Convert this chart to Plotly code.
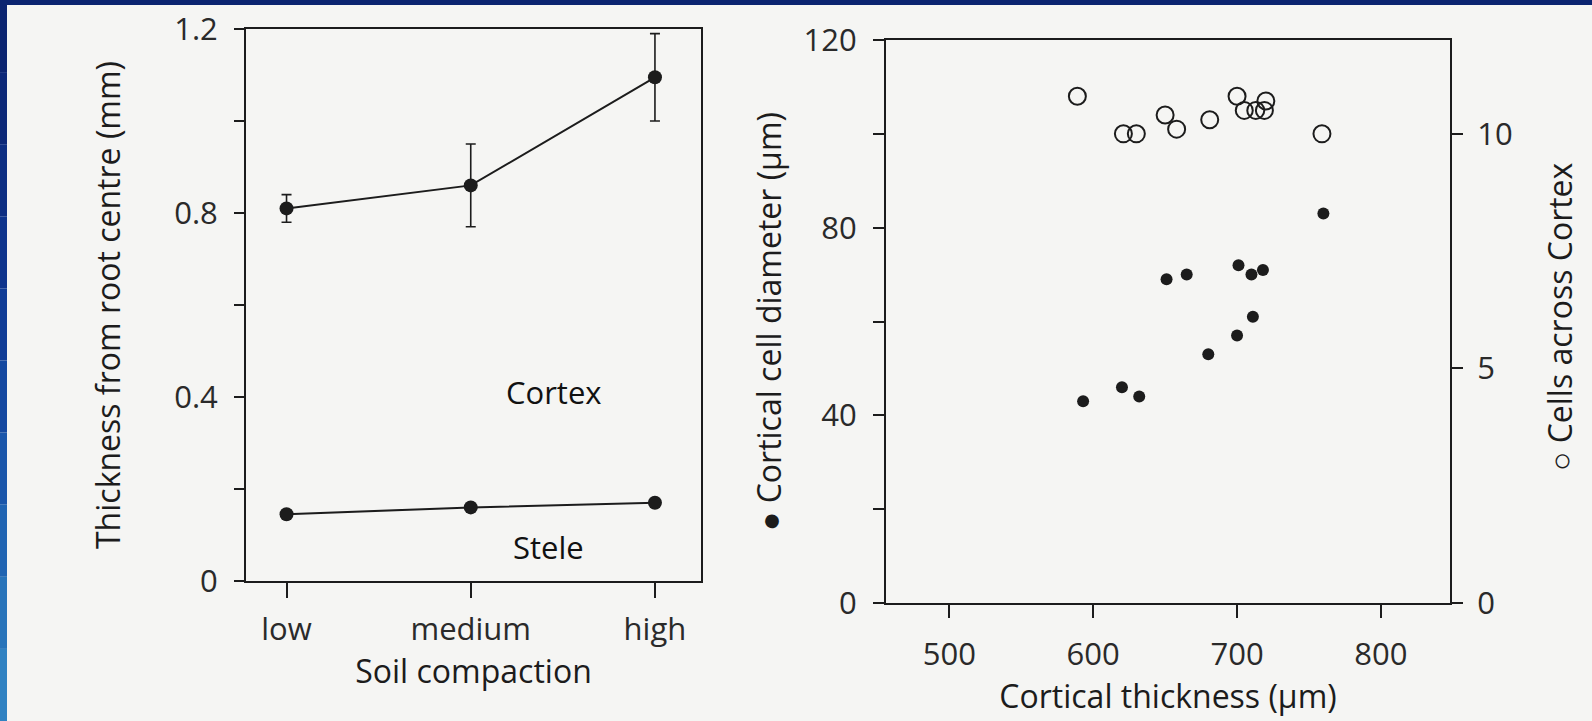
import plotly.graph_objects as go

W, H = 1592, 721

# Left panel: thickness of root tissues vs soil compaction
compaction = ["low", "medium", "high"]
cortex_mm = [0.81, 0.86, 1.095]
cortex_se = [0.03, 0.09, 0.095]
stele_mm = [0.145, 0.16, 0.17]

# Right panel: cortical cell diameter (filled) and cells across cortex (open)
thickness_filled = [593, 620, 632, 651, 665, 680, 700, 701, 710, 711, 718, 760]
cell_diameter = [43, 46, 44, 69, 70, 53, 57, 72, 70, 61, 71, 83]
thickness_open = [589, 621, 630, 650, 658, 681, 700, 705, 713, 719, 720, 759]
cells_across = [10.8, 10.0, 10.0, 10.4, 10.1, 10.3, 10.8, 10.5, 10.5, 10.5, 10.7, 10.0]

left_yticks = [0, 0.2, 0.4, 0.6, 0.8, 1.0, 1.2]
left_yticktext = ["0", "", "0.4", "", "0.8", "", "1.2"]
diam_ticks = [0, 20, 40, 60, 80, 100, 120]
diam_ticktext = ["0", "", "40", "", "80", "", "120"]
cells_ticks = [0, 5, 10]
thickness_ticks = [500, 600, 700, 800]

FONT = "Open Sans, Noto Sans, sans-serif"
INK = "#1c1c1c"
PAGE = "#f5f5f3"


def hdom(x0, x1):
    return [x0 / W, x1 / W]


def vdom(top, bottom):
    return [1 - bottom / H, 1 - top / H]


fig = go.Figure()

fig.add_trace(go.Scatter(
    x=compaction, y=cortex_mm, mode="lines+markers",
    error_y=dict(type="data", array=cortex_se, visible=True,
                 color=INK, thickness=1.6, width=5),
    line=dict(color=INK, width=2), marker=dict(color=INK, size=14),
    xaxis="x", yaxis="y", showlegend=False))
fig.add_trace(go.Scatter(
    x=compaction, y=stele_mm, mode="lines+markers",
    line=dict(color=INK, width=2), marker=dict(color=INK, size=14),
    xaxis="x", yaxis="y", showlegend=False))

fig.add_trace(go.Scatter(
    x=thickness_filled, y=cell_diameter, mode="markers",
    marker=dict(color=INK, size=12),
    xaxis="x2", yaxis="y2", showlegend=False))
fig.add_trace(go.Scatter(
    x=thickness_open, y=cells_across, mode="markers",
    marker=dict(symbol="circle-open", color=INK, size=17, line=dict(width=2)),
    xaxis="x2", yaxis="y3", showlegend=False))

tick_font = dict(family=FONT, size=31, color="#2a2a2a")
title_font = dict(family=FONT, size=32, color=INK)


def axis_style(ticklen, standoff):
    return dict(
        showline=True, linecolor=INK, linewidth=2, showgrid=False, zeroline=False,
        ticks="outside", ticklen=ticklen, tickwidth=2, tickcolor=INK,
        tickfont=tick_font, ticklabelstandoff=standoff, automargin=False,
    )


fig.update_layout(
    width=W, height=H,
    margin=dict(l=0, r=0, t=0, b=0, pad=0, autoexpand=False),
    paper_bgcolor=PAGE, plot_bgcolor=PAGE,
    xaxis=dict(domain=hdom(246, 701), range=[-0.22, 2.25], type="category",
               mirror=True, anchor="y",
               title=dict(text="Soil compaction", font=title_font, standoff=10),
               **axis_style(15, 5)),
    yaxis=dict(domain=vdom(29, 581), range=[0, 1.2], anchor="x", mirror=True,
               tickvals=left_yticks, ticktext=left_yticktext,
               title=dict(text="Thickness from root centre (mm)", font=title_font, standoff=44),
               **axis_style(10, 10)),
    xaxis2=dict(domain=hdom(886, 1450), range=[456, 848], anchor="y2", mirror=True,
                tickvals=thickness_ticks,
                title=dict(text="Cortical thickness (µm)", font=title_font, standoff=4),
                **axis_style(13, 10)),
    yaxis2=dict(domain=vdom(40, 603), range=[0, 120], anchor="x2",
                tickvals=diam_ticks, ticktext=diam_ticktext,
                title=dict(text="● Cortical cell diameter (µm)", font=title_font, standoff=12),
                **axis_style(11, 10)),
    yaxis3=dict(range=[0, 12], overlaying="y2", side="right", anchor="x2",
                tickvals=cells_ticks,
                **axis_style(11, 8)),
    annotations=[
        dict(x=1.45, y=0.41, xref="x", yref="y", text="Cortex", showarrow=False,
             font=dict(family=FONT, size=31, color="#111")),
        dict(x=1.42, y=0.073, xref="x", yref="y", text="Stele", showarrow=False,
             font=dict(family=FONT, size=31, color="#111")),
        # title of the right-hand (cells) axis
        dict(x=1559 / W, y=1 - 317 / H, xref="paper", yref="paper",
             text="○ Cells across Cortex", textangle=-90, showarrow=False,
             xanchor="center", yanchor="middle", font=title_font),
    ],
)

# Slide frame: navy band along the top, blue band down the left edge
shapes = [dict(type="rect", xref="paper", yref="paper", x0=0, x1=1,
               y0=1 - 5 / H, y1=1, line=dict(width=0), fillcolor="#0b2470")]
band = [(11, 36, 112), (12, 40, 120), (13, 46, 130), (14, 52, 140), (16, 60, 150),
        (20, 72, 160), (26, 86, 170), (32, 100, 178), (40, 116, 186), (48, 130, 194)]
n = len(band)
for i, (r, g, b) in enumerate(band):
    shapes.append(dict(type="rect", xref="paper", yref="paper", x0=0, x1=7 / W,
                       y0=1 - (i + 1) / n, y1=1 - i / n, line=dict(width=0),
                       fillcolor=f"rgb({r},{g},{b})"))
fig.update_layout(shapes=shapes)

fig.write_html("out.html")
